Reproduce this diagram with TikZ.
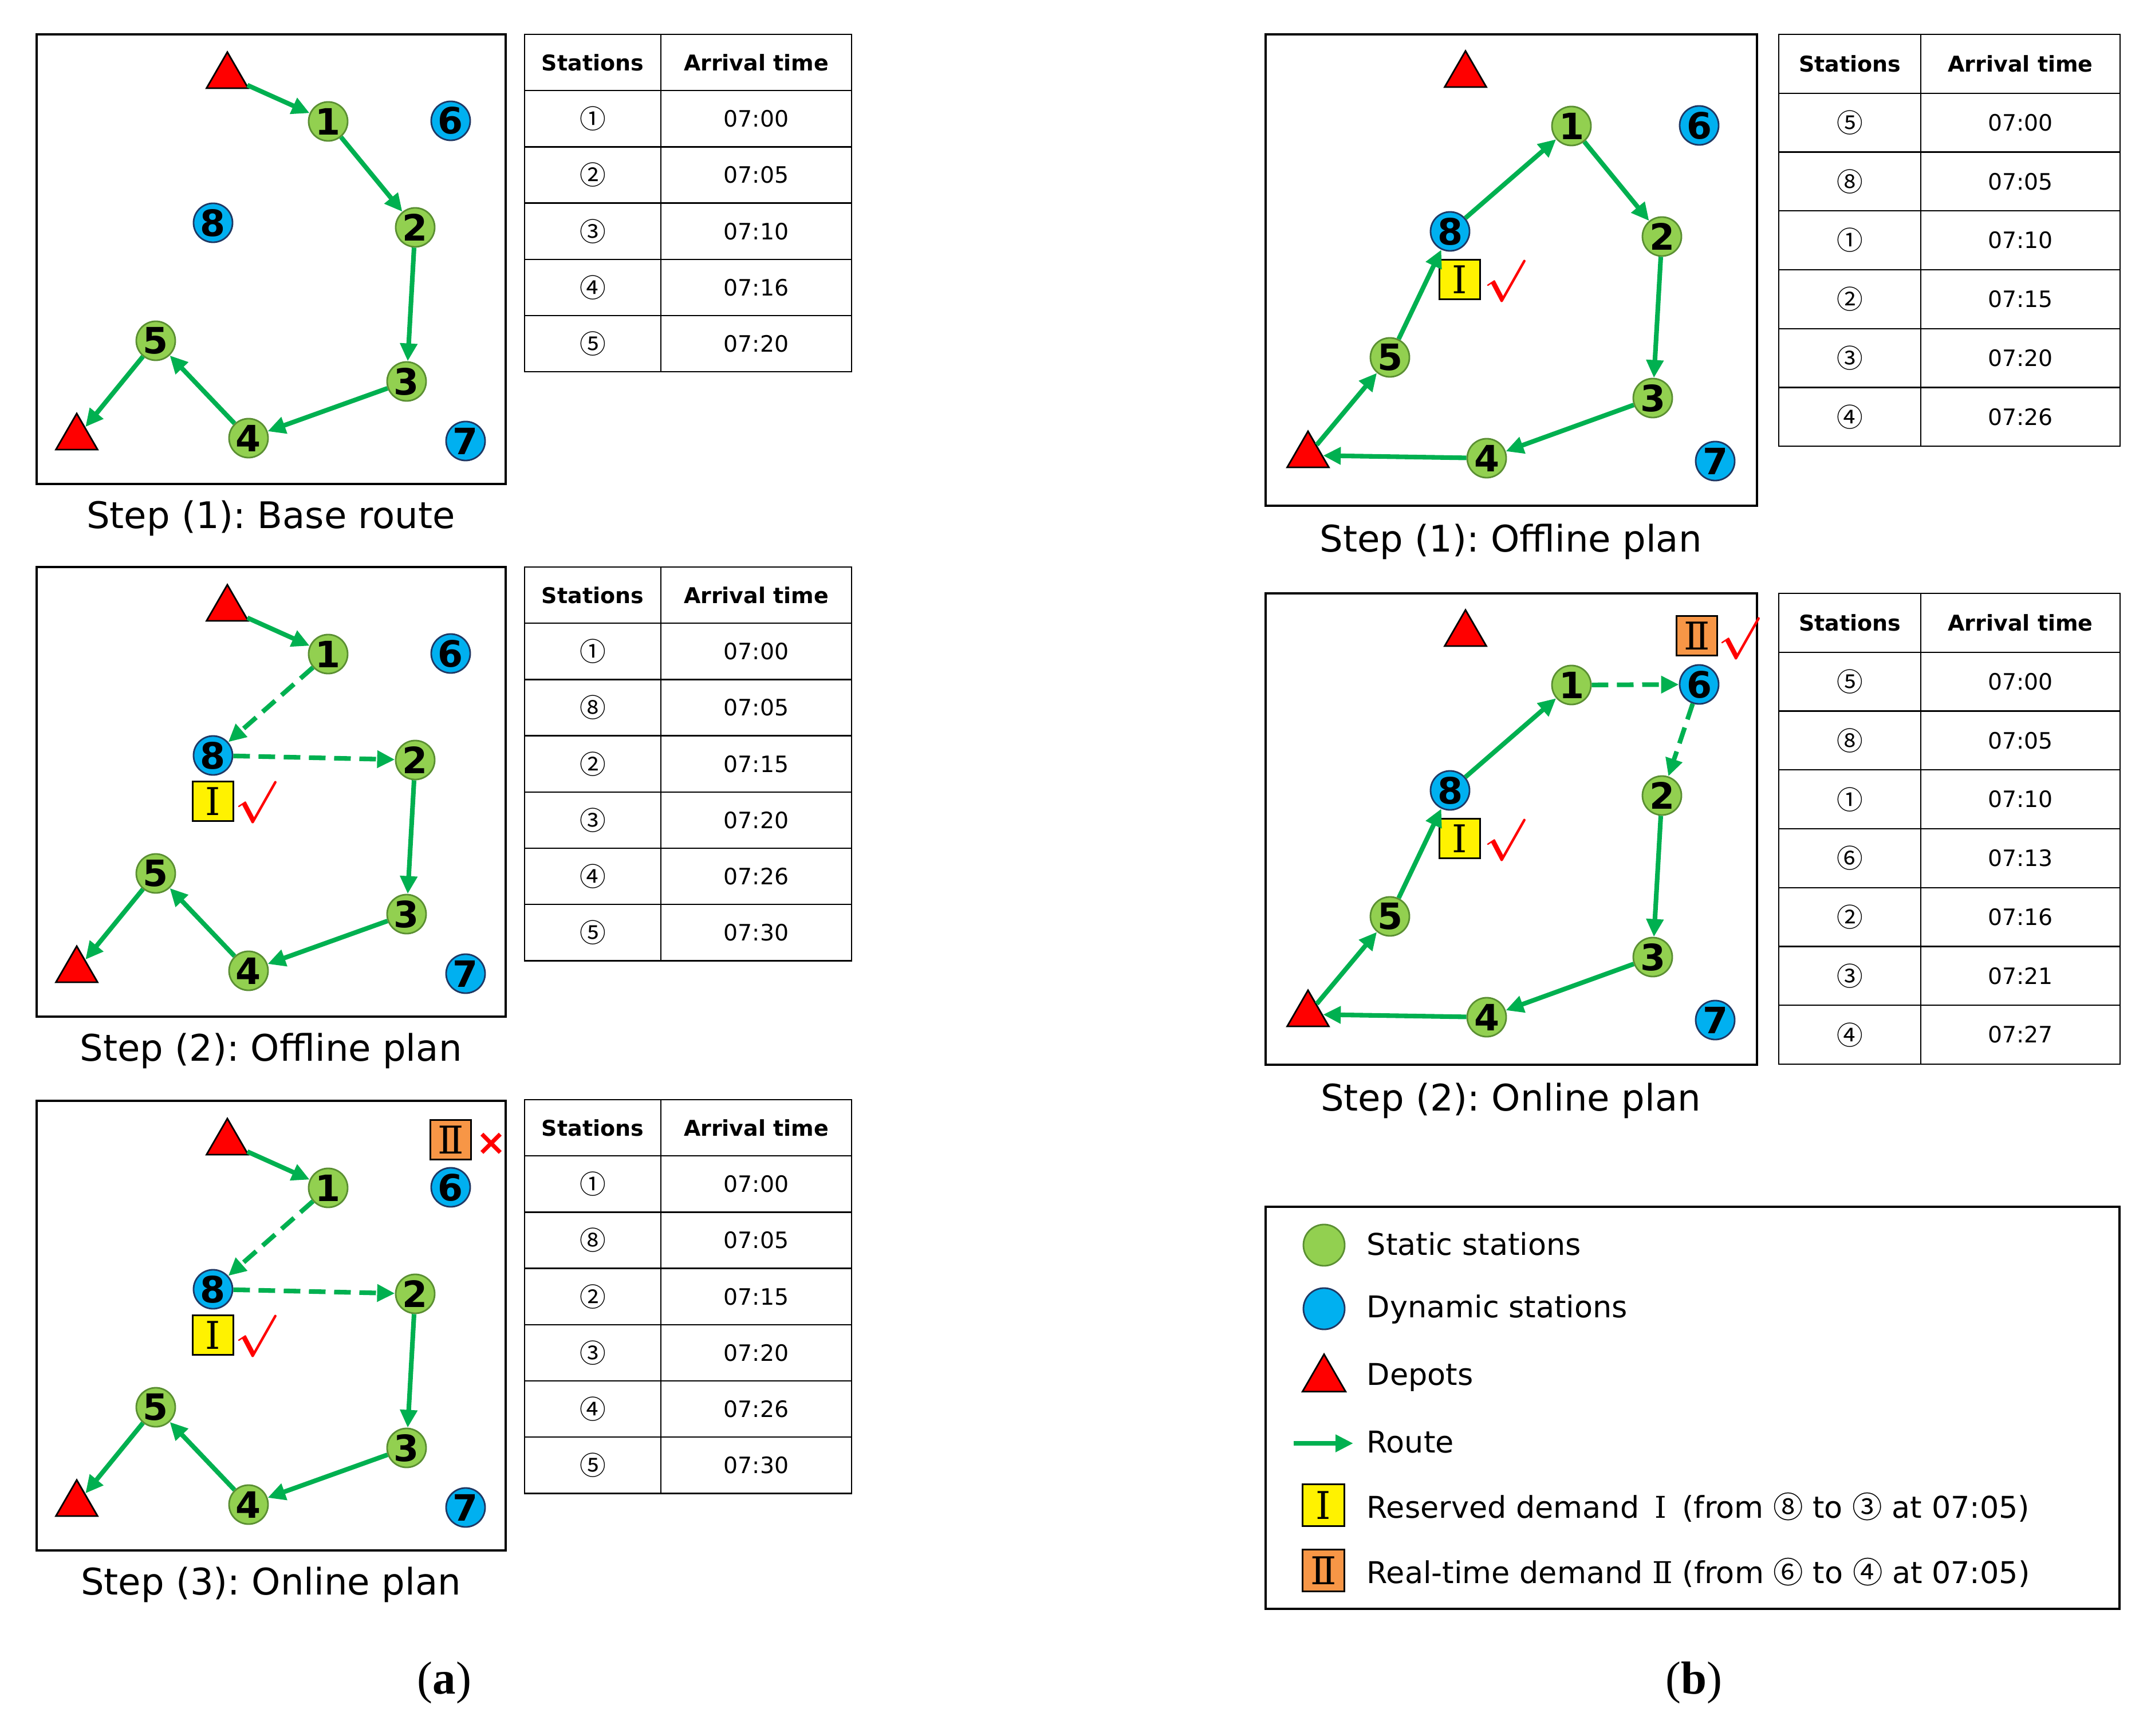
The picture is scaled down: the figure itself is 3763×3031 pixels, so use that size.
\documentclass[tikz,border=0pt]{standalone}
\usepackage{fontspec}
\setmainfont{DejaVu Sans}
\newfontfamily\cjkfont{Noto Sans CJK SC}
\newfontfamily\romanfont{DejaVu Serif}
\newfontfamily\labelfont{Liberation Serif}
\font\checkfont=cmbsy10 at 21pt
\usetikzlibrary{arrows.meta,shapes.geometric}
\frenchspacing

\definecolor{routegreen}{HTML}{00B050}
\definecolor{staticfill}{HTML}{92D050}
\definecolor{staticline}{HTML}{5A8F32}
\definecolor{dynfill}{HTML}{00B0F0}
\definecolor{dynline}{HTML}{1F3864}
\definecolor{demandorange}{HTML}{F79646}

\tikzset{
  static/.style={circle, draw=staticline, fill=staticfill, line width=0.8pt,
    minimum size=0.68cm, inner sep=0pt, font=\fontsize{18}{18}\selectfont\bfseries},
  dynamic/.style={static, draw=dynline, fill=dynfill},
  depot/.style={regular polygon, regular polygon sides=3, draw=black, fill=red,
    line width=0.8pt, minimum size=0.84cm, inner sep=0pt},
  route/.style={draw=routegreen, line width=2.3pt, -{Triangle[length=0.31cm,width=0.29cm]}},
  detour/.style={route, dash pattern=on 0.29cm off 0.15cm},
  demand/.style={draw=black, line width=0.9pt, minimum width=0.71cm,
    minimum height=0.69cm, inner sep=0pt, font=\romanfont\fontsize{19}{19}\selectfont},
  okmark/.style={text=red, inner sep=0pt, font=\checkfont},
  nomark/.style={text=red, inner sep=0pt, font=\fontsize{18}{18}\selectfont\bfseries},
  panel/.style={draw=black, line width=0.9pt},
  caption/.style={font=\fontsize{18.2}{20}\selectfont},
  grid/.style={draw=black, line width=0.7pt},
  headcell/.style={font=\fontsize{10.8}{12}\selectfont\bfseries},
  stcell/.style={font=\cjkfont\fontsize{13}{13}\selectfont},
  timecell/.style={font=\fontsize{11.2}{12}\selectfont},
  legendtext/.style={anchor=west, inner sep=0pt, font=\fontsize{14.9}{16}\selectfont}
}

% stations of the left column
\newcommand{\stationsa}{
  \node[depot] (dtop) at (397,133) {};
  \node[depot] (dbot) at (134,764) {};
  \node[static] (n1) at (573,212) {1};
  \node[static] (n2) at (725,397) {2};
  \node[static] (n3) at (710,666) {3};
  \node[static] (n4) at (434,765) {4};
  \node[static] (n5) at (272,595) {5};
  \node[dynamic] (n6) at (787,211) {6};
  \node[dynamic] (n7) at (813,770) {7};
  \node[dynamic] (n8) at (372,389) {8};
}
% stations of the right column
\newcommand{\stationsb}{
  \node[depot] (dtop) at (2559,131) {};
  \node[depot] (dbot) at (2284,795) {};
  \node[static] (n1) at (2744,220) {1};
  \node[static] (n2) at (2902,413) {2};
  \node[static] (n3) at (2886,695) {3};
  \node[static] (n4) at (2596,800) {4};
  \node[static] (n5) at (2427,624) {5};
  \node[dynamic] (n6) at (2967,219) {6};
  \node[dynamic] (n7) at (2995,805) {7};
  \node[dynamic] (n8) at (2532,404) {8};
}
% name, left x, middle x, right x, top y, row height, rows
\newcommand{\timetable}[7]{
  \node[headcell] (#1-h1) at ({(#2+#3)/2},{#5+#6/2}) {Stations};
  \node[headcell] (#1-h2) at ({(#3+#4)/2},{#5+#6/2}) {Arrival time};
  \foreach \st/\tm [count=\i] in {#7} {
    \node[stcell] (#1-s\i) at ({(#2+#3)/2},{#5+(\i+0.5)*#6}) {\st};
    \node[timecell] (#1-t\i) at ({(#3+#4)/2},{#5+(\i+0.5)*#6}) {\tm};
    \draw[grid] (#2,{#5+\i*#6}) -- (#4,{#5+\i*#6});
    \xdef\nrows{\i}
  }
  \draw[grid] (#2,#5) rectangle (#4,{#5+(\nrows+1)*#6});
  \draw[grid] (#3,#5) -- (#3,{#5+(\nrows+1)*#6});
}

\begin{document}
\begin{tikzpicture}[x=0.01cm, y=-0.01cm]
  \useasboundingbox (0,0) rectangle (3763,3031);

  % (a) step 1
  \begin{scope}[name prefix=a1-]
    \draw[panel] (64,60) rectangle (883,845);
    \stationsa
    \draw[route] (dtop) -- (n1);
    \draw[route] (n1) -- (n2);
    \draw[route] (n2) -- (n3);
    \draw[route] (n3) -- (n4);
    \draw[route] (n4) -- (n5);
    \draw[route] (n5) -- (dbot);
    \node[caption] (cap) at (473,905) {Step (1): Base route};
  \end{scope}
  \timetable{ta1}{916}{1154}{1487}{60}{98.2}{①/07:00,②/07:05,③/07:10,④/07:16,⑤/07:20}

  % (a) step 2
  \begin{scope}[shift={(0,930)}, name prefix=a2-]
    \draw[panel] (64,60) rectangle (883,845);
    \stationsa
    \node[demand, fill=yellow] (dem1) at (372,469) {Ⅰ};
    \node[okmark] (ok1) at (446,471) {\char"70};
    \draw[route] (dtop) -- (n1);
    \draw[detour] (n1) -- (n8);
    \draw[detour] (n8) -- (n2);
    \draw[route] (n2) -- (n3);
    \draw[route] (n3) -- (n4);
    \draw[route] (n4) -- (n5);
    \draw[route] (n5) -- (dbot);
    \node[caption] (cap) at (473,905) {Step (2): Offline plan};
  \end{scope}
  \timetable{ta2}{916}{1154}{1487}{990}{98.2}{①/07:00,⑧/07:05,②/07:15,③/07:20,④/07:26,⑤/07:30}

  % (a) step 3
  \begin{scope}[shift={(0,1862)}, name prefix=a3-]
    \draw[panel] (64,60) rectangle (883,845);
    \stationsa
    \node[demand, fill=yellow] (dem1) at (372,469) {Ⅰ};
    \node[okmark] (ok1) at (446,471) {\char"70};
    \node[demand, fill=demandorange] (dem2) at (787,128) {Ⅱ};
    \node[nomark] (no2) at (858,135) {×};
    \draw[route] (dtop) -- (n1);
    \draw[detour] (n1) -- (n8);
    \draw[detour] (n8) -- (n2);
    \draw[route] (n2) -- (n3);
    \draw[route] (n3) -- (n4);
    \draw[route] (n4) -- (n5);
    \draw[route] (n5) -- (dbot);
    \node[caption] (cap) at (473,905) {Step (3): Online plan};
  \end{scope}
  \timetable{ta3}{916}{1154}{1487}{1920}{98.2}{①/07:00,⑧/07:05,②/07:15,③/07:20,④/07:26,⑤/07:30}

  % (b) step 1
  \begin{scope}[name prefix=b1-]
    \draw[panel] (2210,60) rectangle (3068,883);
    \stationsb
    \node[demand, fill=yellow] (dem1) at (2549,488) {Ⅰ};
    \node[okmark] (ok1) at (2627,491) {\char"70};
    \draw[route] (dbot) -- (n5);
    \draw[route] (n5) -- (n8);
    \draw[route] (n8) -- (n1);
    \draw[route] (n1) -- (n2);
    \draw[route] (n2) -- (n3);
    \draw[route] (n3) -- (n4);
    \draw[route] (n4) -- (dbot);
    \node[caption] (cap) at (2638,946) {Step (1): Offline plan};
  \end{scope}
  \timetable{tb1}{3106}{3354}{3702}{60}{102.75}{⑤/07:00,⑧/07:05,①/07:10,②/07:15,③/07:20,④/07:26}

  % (b) step 2
  \begin{scope}[shift={(0,976)}, name prefix=b2-]
    \draw[panel] (2210,60) rectangle (3068,883);
    \stationsb
    \node[demand, fill=yellow] (dem1) at (2549,488) {Ⅰ};
    \node[okmark] (ok1) at (2627,491) {\char"70};
    \node[demand, fill=demandorange] (dem2) at (2963,134) {Ⅱ};
    \node[okmark] (ok2) at (3036,139) {\char"70};
    \draw[route] (dbot) -- (n5);
    \draw[route] (n5) -- (n8);
    \draw[route] (n8) -- (n1);
    \draw[detour] (n1) -- (n6);
    \draw[detour] (n6) -- (n2);
    \draw[route] (n2) -- (n3);
    \draw[route] (n3) -- (n4);
    \draw[route] (n4) -- (dbot);
    \node[caption] (cap) at (2638,946) {Step (2): Online plan};
  \end{scope}
  \timetable{tb2}{3106}{3354}{3702}{1036}{102.75}{⑤/07:00,⑧/07:05,①/07:10,⑥/07:13,②/07:16,③/07:21,④/07:27}

  % legend
  \draw[panel] (2210,2107) rectangle (3701,2809);
  \node[static, minimum size=0.72cm] (lg-static) at (2312,2174) {};
  \node[dynamic, minimum size=0.72cm] (lg-dyn) at (2312,2285) {};
  \node[depot, minimum size=0.87cm] (lg-depot) at (2312,2408) {};
  \coordinate (lg-r0) at (2259,2520);
  \coordinate (lg-r1) at (2363,2520);
  \draw[route] (lg-r0) -- (lg-r1);
  \node[demand, fill=yellow, minimum width=0.73cm, minimum height=0.73cm] (lg-dem1) at (2311,2628) {Ⅰ};
  \node[demand, fill=demandorange, minimum width=0.73cm, minimum height=0.73cm] (lg-dem2) at (2311,2742) {Ⅱ};
  \node[legendtext] (lt1) at (2386,2172) {Static stations};
  \node[legendtext] (lt2) at (2386,2286) {Dynamic stations};
  \node[legendtext] (lt3) at (2386,2405) {Depots};
  \node[legendtext] (lt4) at (2386,2518) {Route};
  \node[legendtext] (lt5) at (2386,2632) {Reserved demand \hspace{0.2em}{\romanfont Ⅰ}\hspace{0.2em} (from {\cjkfont ⑧} to {\cjkfont ③} at 07:05)};
  \node[legendtext] (lt6) at (2386,2746) {Real-time demand {\romanfont Ⅱ} (from {\cjkfont ⑥} to {\cjkfont ④} at 07:05)};

  \node[font=\labelfont\fontsize{23}{23}\selectfont] (la) at (776,2938) {(\textbf{a})};
  \node[font=\labelfont\fontsize{23}{23}\selectfont] (lb) at (2958,2938) {(\textbf{b})};
\end{tikzpicture}
\end{document}
